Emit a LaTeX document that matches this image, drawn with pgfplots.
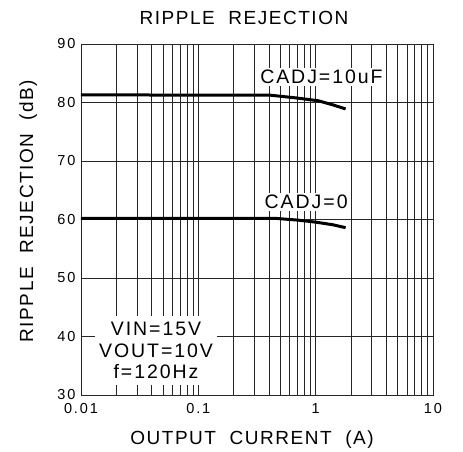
\documentclass[border=0pt]{standalone}
\usepackage{fontspec}
\usepackage{pgfplots}
\pgfplotsset{compat=1.18}
\setmainfont{Liberation Sans}
\newfontfamily\tickf[LetterSpace=13]{Liberation Sans}
\newfontfamily\labf[LetterSpace=8]{Liberation Sans}
\newfontfamily\annf[LetterSpace=10]{Liberation Sans}
\begin{document}
\begin{tikzpicture}
\useasboundingbox (0,0) rectangle (463pt,452pt);
\begin{axis}[
  at={(81pt,57pt)}, anchor=south west,
  scale only axis, width=352pt, height=351pt,
  xmode=log, xmin=0.01, xmax=10, ymin=30, ymax=90,
  xtick={0.01,0.1,1,10}, xticklabels={0.01,0.1,1,10},
  ytick={30,40,50,60,70,80,90}, yticklabels={30,40,50,60,70,80,90},
  grid=both,
  major grid style={black!85, line width=0.8pt},
  minor grid style={black!85, line width=0.8pt},
  axis line style={black!85, line width=0.8pt},
  major tick length=0pt, minor tick length=0pt,
  xticklabel style={font=\tickf\fontsize{14.5}{16}\selectfont, yshift=-5pt},
  yticklabel style={font=\tickf\fontsize{14.5}{16}\selectfont, xshift=-2pt},
  clip=false,
]
\addplot[black, line width=3pt] coordinates {(0.01,81.3) (0.41,81.25) (0.67,80.8) (1.05,80.3) (1.4,79.6) (1.8,78.9)};
\addplot[black, line width=3pt] coordinates {(0.01,60.2) (0.45,60.2) (0.7,59.9) (1.0,59.55) (1.4,59.1) (1.8,58.6)};
\node[fill=white, inner sep=2pt, anchor=base, font=\annf\fontsize{19.5}{21.5}\selectfont] at (axis cs:1.12,83.2) {CADJ=10uF};
\node[fill=white, inner sep=2pt, anchor=base, font=\annf\fontsize{19.5}{21.5}\selectfont] at (axis cs:0.83,61.9) {CADJ=0};
\node[fill=white, inner xsep=4pt, inner ysep=6pt, align=center, font=\annf\fontsize{19.5}{21.5}\selectfont] at (axis cs:0.0436,37.6) {VIN=15V\\VOUT=10V\\f=120Hz};
\end{axis}
\node[anchor=base, font=\labf\fontsize{19}{20}\selectfont] at (244pt,427pt) {RIPPLE\ \ REJECTION};
\node[anchor=base, font=\labf\fontsize{19}{20}\selectfont] at (252pt,7pt) {OUTPUT\ \ CURRENT\ \ (A)};
\node[anchor=base, rotate=90, font=\labf\fontsize{19}{20}\selectfont] at (33pt,241pt) {RIPPLE\ \ REJECTION\ \ (dB)};
\end{tikzpicture}
\end{document}
